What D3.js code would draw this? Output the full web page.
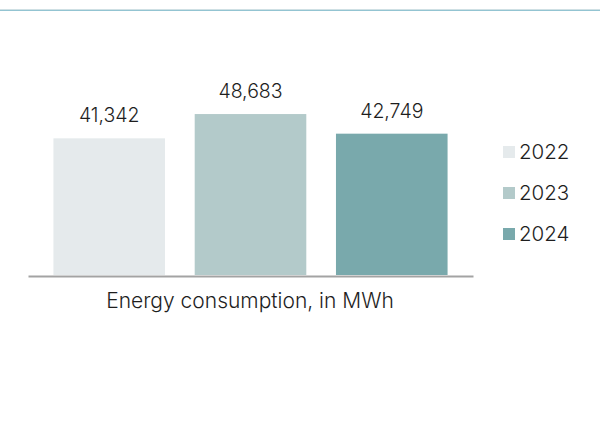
<!DOCTYPE html>
<html>
<head>
<meta charset="utf-8">
<script src="https://cdn.jsdelivr.net/npm/d3@7"></script>
<style>
  html, body { margin: 0; padding: 0; background: #fff; }
  svg { display: block; font-family: Inter, "Liberation Sans", sans-serif; font-weight: 350; }
</style>
</head>
<body>
<svg id="chart" width="600" height="439"></svg>
<script>
const years = ["2022", "2023", "2024"];
const values = [41342, 48683, 42749];
const colors = ["#e5eaec", "#b3caca", "#79a9ac"];
const axisTitle = "Energy consumption, in MWh";

const svg = d3.select("#chart");

// top rule
svg.append("rect").attr("x", 0).attr("y", 9).attr("width", 600).attr("height", 1).attr("fill", "#cfe0e4");
svg.append("rect").attr("x", 0).attr("y", 10).attr("width", 600).attr("height", 1).attr("fill", "#93c4d2");

const x = d3.scaleBand().domain(years).range([28, 473]).paddingInner(0.21).paddingOuter(0.18);
const y = d3.scaleLinear().domain([0, 50000]).range([275, 109.7]);
const color = d3.scaleOrdinal().domain(years).range(colors);

const data = years.map((yr, i) => ({ year: yr, value: values[i] }));

svg.selectAll("rect.bar").data(data).join("rect")
  .attr("class", "bar")
  .attr("x", d => x(d.year))
  .attr("y", d => y(d.value))
  .attr("width", x.bandwidth())
  .attr("height", d => y(0) - y(d.value))
  .attr("fill", d => color(d.year));

svg.selectAll("text.val").data(data).join("text")
  .attr("class", "val")
  .attr("x", d => x(d.year) + x.bandwidth() / 2)
  .attr("y", d => y(d.value) - 16)
  .attr("text-anchor", "middle")
  .attr("font-size", 19.5)
  .attr("fill", "#1e1e1e")
  .text(d => d3.format(",")(d.value));

// baseline axis
const axis = d3.axisBottom(x).tickSize(0).tickFormat("");
const g = svg.append("g").attr("transform", "translate(0,276)").call(axis);
g.select(".domain").attr("stroke", "#a3a3a3").attr("stroke-width", 2);

svg.append("text")
  .attr("x", 250).attr("y", 308)
  .attr("text-anchor", "middle")
  .attr("font-size", 21)
  .attr("fill", "#1e1e1e")
  .text(axisTitle);

// legend
const legend = svg.selectAll("g.leg").data(years).join("g")
  .attr("class", "leg")
  .attr("transform", (d, i) => `translate(503, ${151 + i * 41})`);
legend.append("rect").attr("x", 0).attr("y", -5).attr("width", 12).attr("height", 12).attr("fill", d => color(d));
legend.append("text").attr("x", 16).attr("y", 8).attr("font-size", 20.5).attr("fill", "#1e1e1e").text(d => d);
</script>
</body>
</html>
